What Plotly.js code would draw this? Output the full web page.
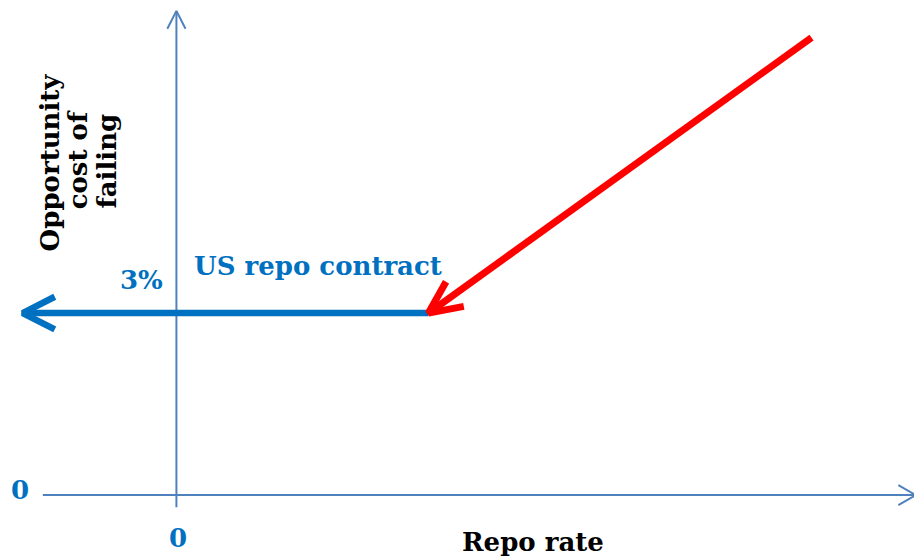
<!DOCTYPE html>
<html>
<head>
<meta charset="utf-8">
<script src="https://cdn.plot.ly/plotly-3.0.1.min.js"></script>
<style>html,body{margin:0;padding:0;background:#fff;}#chart{width:914px;height:557px;}</style>
</head>
<body>
<div id="chart"></div>
<script>
// ---- data (percent) ----
const contractRate = 3;                 // US repo contract floor (opportunity cost 3%)
const blueX = [-1.83, 3];               // repo rate values spanned by the floor line
const blueY = [3, 3];
const redX = [7.56, 3];                 // repo rate -> opportunity cost (45° line) ending at the floor
const redY = [7.54, 3];
const xAxisSpan = [-1.59, 8.80];
const yAxisSpan = [-0.2, 7.98];
const labels = {
  y: ["Opportunity", "cost of", "failing"],
  x: "Repo rate",
  contract: "US repo contract",
  pct: "3%",
  zero: "0"
};

// ---- layout constants ----
const W = 914, H = 557;
const xr = [-2.1, 8.78], yr = [-1.02, 8.16];
const pxX = W / (xr[1] - xr[0]);
const pxY = H / (yr[1] - yr[0]);

function head(tipX, tipY, fromX, fromY, len, halfDeg) {
  const dxp = (fromX - tipX) * pxX, dyp = (fromY - tipY) * pxY;
  const a = Math.atan2(dyp, dxp), h = halfDeg * Math.PI / 180;
  const p1 = [tipX + len * Math.cos(a + h) / pxX, tipY + len * Math.sin(a + h) / pxY];
  const p2 = [tipX + len * Math.cos(a - h) / pxX, tipY + len * Math.sin(a - h) / pxY];
  return {x: [p1[0], tipX, p2[0]], y: [p1[1], tipY, p2[1]]};
}

const axisCol = '#4F81BD', blue = '#0070C0', red = '#FF0000';
const traces = [];
function line(x, y, color, width) {
  traces.push({type: 'scatter', mode: 'lines', x: x, y: y, hoverinfo: 'skip',
    line: {color: color, width: width}, showlegend: false});
}
// axes
line(xAxisSpan, [0, 0], axisCol, 2);
line([0, 0], yAxisSpan, axisCol, 2);
let h1 = head(xAxisSpan[1], 0, 0, 0, 20, 30); line(h1.x, h1.y, axisCol, 2);
let h2 = head(0, yAxisSpan[1], 0, 0, 20, 27); line(h2.x, h2.y, axisCol, 2);
// blue floor
line(blueX, blueY, blue, 6.5);
let h3 = head(blueX[0], blueY[0], blueX[1], blueY[1], 36, 27); line(h3.x, h3.y, blue, 6.5);
// red line
line(redX, redY, red, 7);
let h4 = head(redX[1], redY[1], redX[0], redY[0], 36, 25); line(h4.x, h4.y, red, 7);

const fam = 'DejaVu Serif';
function ann(text, x, y, color, size, extra) {
  return Object.assign({text: text, x: x, y: y, xref: 'x', yref: 'y', showarrow: false,
    xanchor: 'center', yanchor: 'middle',
    font: {family: fam, size: size, color: color, weight: 'bold'}}, extra || {});
}
const annotations = [
  ann(labels.y[0], -1.50, 5.49, '#000', 26, {textangle: -90}),
  ann(labels.y[1], -1.17, 5.52, '#000', 26, {textangle: -90}),
  ann(labels.y[2], -0.83, 5.51, '#000', 26, {textangle: -90}),
  ann(labels.pct, -0.42, 3.55, blue, 26),
  ann(labels.contract, 1.68, 3.78, blue, 26),
  ann(labels.zero, -1.86, 0.08, blue, 26),
  ann(labels.zero, 0.02, -0.71, blue, 26),
  ann(labels.x, 4.25, -0.78, '#000', 26)
];

Plotly.newPlot('chart', traces, {
  width: W, height: H, margin: {l: 0, r: 0, t: 0, b: 0},
  paper_bgcolor: '#fff', plot_bgcolor: '#fff',
  xaxis: {range: xr, visible: false, fixedrange: true},
  yaxis: {range: yr, visible: false, fixedrange: true},
  annotations: annotations, showlegend: false
}, {displayModeBar: false, staticPlot: true});
</script>
</body>
</html>
